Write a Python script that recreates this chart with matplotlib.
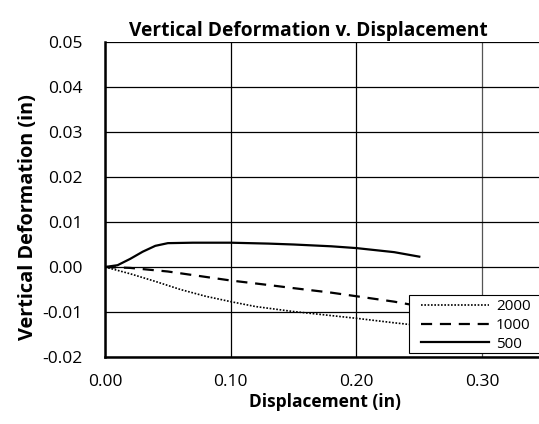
import numpy as np
import matplotlib
matplotlib.use('Agg')
from matplotlib import pyplot as plt
from matplotlib.patches import Rectangle

plt.rcParams['font.family'] = ['Open Sans', 'DejaVu Sans']

# displacement (in) and vertical deformation (in)
disp_500 = [0.0, 0.01, 0.02, 0.03, 0.04, 0.05, 0.07, 0.10, 0.13, 0.15, 0.18, 0.20, 0.23, 0.25]
vdef_500 = [0.0, 0.0004, 0.0018, 0.0034, 0.0047, 0.0053, 0.0054, 0.0054, 0.0052, 0.0050, 0.0046, 0.0042, 0.0033, 0.0023]

disp_1000 = [0.0, 0.02, 0.05, 0.08, 0.10, 0.13, 0.15, 0.18, 0.20, 0.23, 0.25]
vdef_1000 = [0.0, -0.0002, -0.0010, -0.0022, -0.0030, -0.0040, -0.0047, -0.0057, -0.0065, -0.0077, -0.0087]

disp_2000 = [0.0, 0.02, 0.04, 0.06, 0.08, 0.10, 0.12, 0.15, 0.18, 0.20, 0.23, 0.25]
vdef_2000 = [0.0, -0.0015, -0.0032, -0.0050, -0.0065, -0.0077, -0.0088, -0.0099, -0.0108, -0.0114, -0.0124, -0.0130]

x_ticks = [0.0, 0.1, 0.2, 0.3]
y_ticks = [-0.02, -0.01, 0.0, 0.01, 0.02, 0.03, 0.04, 0.05]

W, H = 539, 424
fig = plt.figure(figsize=(W / 100, H / 100), dpi=100)
# plot area runs a little past the right edge of the picture
ax = fig.add_axes([105 / W, (H - 357) / H, 440 / W, 315 / H])

ax.plot(disp_2000, vdef_2000, color='black', linestyle=(0, (1, 1)), linewidth=1.2, label='2000')
ax.plot(disp_1000, vdef_1000, color='black', linestyle=(0, (5, 3.5)), linewidth=1.6, label='1000')
ax.plot(disp_500, vdef_500, color='black', linestyle='-', linewidth=1.6, label='500')

ax.set_xlim(0, 0.35)
ax.set_ylim(-0.02, 0.05)
ax.set_xticks(x_ticks)
ax.set_yticks(y_ticks)
ax.set_xticklabels(['%.2f' % v for v in x_ticks], fontsize=12.5)
ax.set_yticklabels(['%.2f' % v for v in y_ticks], fontsize=12.5)
ax.tick_params(axis='y', length=0, pad=16)
ax.tick_params(axis='x', length=0, pad=12)
ax.grid(True, color='black', linewidth=0.9)
ax.xaxis.get_gridlines()[3].set_color('#555555')
ax.set_axisbelow(True)

for side in ['top', 'right']:
    ax.spines[side].set_visible(False)
for side in ['left', 'bottom']:
    ax.spines[side].set_linewidth(1.8)

ax.set_title('Vertical Deformation v. Displacement', fontsize=13.8, fontweight='bold',
             x=(308 - 105) / 440, pad=4)
ax.set_xlabel('Displacement (in)', fontsize=12.5, fontweight='bold')
ax.xaxis.set_label_coords(0.5, -(393 - 357) / 315)
ax.set_ylabel('Vertical Deformation (in)', fontsize=14.3, fontweight='bold')
ax.yaxis.set_label_coords(-(105 - 38) / 440, (357 - 217) / 315)

# legend box runs off the right edge, as in the original
box = Rectangle((409 / W, (H - 353) / H), 160 / W, 58 / H, transform=fig.transFigure,
                facecolor='white', edgecolor='black', linewidth=0.8, clip_on=False, zorder=4)
ax.add_patch(box)
leg = ax.legend(loc='upper left', bbox_to_anchor=(418 / W, (H - 296) / H),
                bbox_transform=fig.transFigure, fontsize=11, frameon=False,
                borderaxespad=0, handlelength=4.45, handletextpad=0.45,
                labelspacing=0.25, borderpad=0.2)
leg.set_zorder(5)

fig.savefig('out.png', dpi=100)
